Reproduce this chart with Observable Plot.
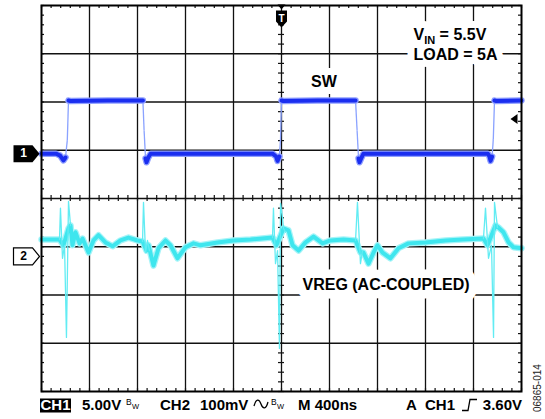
<!DOCTYPE html>
<html><head><meta charset="utf-8">
<script src="https://cdn.jsdelivr.net/npm/d3@7"></script>
<script src="https://cdn.jsdelivr.net/npm/@observablehq/plot@0.6"></script>
<style>
html,body{margin:0;padding:0;background:#fff;}
#wrap{position:relative;width:545px;height:419px;overflow:hidden;font-family:"Liberation Sans",Arial,sans-serif;}
#chart svg{display:block;}
#caption{display:block;}
#side{position:absolute;left:0;top:0;pointer-events:none;}
</style>
</head><body>
<div id="wrap"><div id="chart"></div>
<svg id="caption" width="545" height="24" font-family="Liberation Sans, Arial, sans-serif">
  <rect x="40" y="3.5" width="31" height="14" fill="#000"></rect>
  <text x="55.5" y="15" text-anchor="middle" fill="#fff" font-weight="bold" font-size="15">CH1</text>
  <text x="82" y="15" font-weight="bold" font-size="15">5.00V</text>
  <text x="126" y="10" font-size="8.5">B</text><text x="132" y="14" font-size="7.5">W</text>
  <text x="160" y="15" font-weight="bold" font-size="15">CH2</text>
  <text x="200" y="15" font-weight="bold" font-size="15">100mV</text>
  <path d="M254,11 C256,3.5 259,3.5 261,9 C263,14.5 266,14.5 268,7" fill="none" stroke="#000" stroke-width="1.3"></path>
  <text x="271" y="10" font-size="8.5">B</text><text x="277" y="14" font-size="7.5">W</text>
  <text x="298" y="15" font-weight="bold" font-size="15">M 400ns</text>
  <text x="406" y="15" font-weight="bold" font-size="15">A</text>
  <text x="425" y="15" font-weight="bold" font-size="15">CH1</text>
  <path d="M462,15.5 L468,15.5 L470,4.5 L477,4.5" fill="none" stroke="#000" stroke-width="1.3"></path>
  <text x="522" y="15" text-anchor="end" font-weight="bold" font-size="15">3.60V</text>
</svg>
<svg id="side" width="545" height="419" font-family="Liberation Sans, Arial, sans-serif">
  <text transform="translate(541,412) rotate(-90)" font-size="10" fill="#222">06865-014</text>
</svg>
</div>
<script>
// ---------- data ----------
// CH1: SW node (volts) vs time (ns, trigger at 0)
const swTime = [-2000, -1880, -1845, -1817, -1800, -1785, -1775, -1760, -1450, -1155, -1145, -1133, -1125, -1110, -1090, -700, -75, -45, -33, -18, -8, 0, 15, 300, 617, 630, 642, 650, 667, 683, 1100, 1720, 1733, 1742, 1755, 1765, 1775, 1790, 2000];
const swVolt = [0, 0, -0.2, -0.7, -0.4, 1.4, 5.5, 5.45, 5.5, 5.5, 2.4, -0.5, -0.9, -0.4, 0, 0, 0, -0.3, -0.75, -0.3, 1.5, 5.5, 5.45, 5.5, 5.5, 2.4, -0.5, -0.9, -0.4, 0, 0, 0, -0.3, -0.75, -0.3, 1.5, 5.5, 5.45, 5.5];
// CH2: VREG ripple (mV, AC-coupled) – main trace
const vregTime = [-2000, -1850, -1817, -1775, -1758, -1742, -1717, -1683, -1658, -1608, -1567, -1525, -1467, -1408, -1342, -1275, -1200, -1158, -1125, -1108, -1067, -1025, -967, -925, -867, -800, -733, -675, -533, -400, -258, -75, -42, 17, 58, 92, 142, 200, 267, 342, 408, 517, 617, 658, 683, 725, 767, 800, 842, 908, 975, 1058, 1200, 1367, 1508, 1683, 1717, 1783, 1808, 1850, 1892, 1933, 2000];
const vregMv = [35, 35, 23, 58, 64, 23, 50, 27, 37, 8, 33, 44, 29, 21, 33, 39, 33, 31, 12, 23, -19, 17, 33, 23, -4, 19, 27, 23, 29, 33, 35, 39, 23, 58, 54, 23, 12, 29, 41, 27, 33, 35, 33, 8, 8, -15, 8, 23, 8, -4, 17, 27, 29, 33, 35, 37, 23, 64, 60, 50, 29, 19, 17];
// CH2: switching spikes (one group per switching edge)
const spikeEdge = [1,1,1,1,1,1,1, 2,2,2,2,2, 3,3,3,3,3,3,3,3,3, 4,4,4,4, 5,5,5,5,5,5,5];
const spikeTime = [-1850, -1842, -1825, -1808, -1792, -1775, -1758, -1158, -1150, -1133, -1117, -1100, -75, -67, -50, -33, -17, -8, 8, 17, 33, 617, 633, 658, 675, 1683, 1700, 1725, 1750, 1767, 1775, 1800];
const spikeMv = [35, 100, -4, 23, -168, 114, 64, 31, 112, 8, 33, 12, 39, 100, -15, 12, -191, 110, 81, 58, 50, 33, 112, -15, 12, 37, 100, -4, 23, -168, 112, 60];
// scope settings
const ch1VoltsPerDiv = 5, ch2MvPerDiv = 100, nsPerDiv = 400;
const ch1Ground = 0.93, ch2Ground = -1.2;   // marker positions (divisions)
const trigLevel = 3.6;                      // volts on CH1
// annotations
const labelText = ["SW", "VIN = 5.5V", "LOAD = 5A", "VREG (AC-COUPLED)"];
const labelT = [354, 1100, 1100, 175];
const labelDiv = [2.42, 3.4, 2.98, -1.78];
const labelAnchor = ["middle", "start", "start", "start"];
const labelPad = [14, 14, 14, 17];

// ---------- derived ----------
const majorX = d3.range(-5, 5.001, 1).map(d => d * nsPerDiv);
const majorY = d3.range(-4, 4.001, 1);
const minorX = d3.range(-25, 25.001, 1).map(d => d * nsPerDiv / 5);
const minorY = d3.range(-20, 20.001, 1).map(d => d / 5);
const xLo = -5 * nsPerDiv, xHi = 5 * nsPerDiv;
const tX = 3 * (10 * nsPerDiv) / 480, tY = 3 * 8 / 386;  // 3px tick length in data units

const sw = swTime.map((t, i) => ({t, y: ch1Ground + swVolt[i] / ch1VoltsPerDiv}));
let seg = 0;
sw.forEach((d, i) => { if (i > 0 && Math.abs(swVolt[i] - swVolt[i - 1]) > 1.5) seg++; d.seg = seg; });
const segCount = d3.rollup(sw, v => v.length, d => d.seg);
const swFlat = sw.filter(d => segCount.get(d.seg) > 1);
const swEdges = d3.pairs(sw).filter(([a, b], i) => Math.abs(swVolt[i + 1] - swVolt[i]) > 1.5)
  .map(([a, b]) => ({x1: a.t, y1: a.y, x2: b.t, y2: b.y}));
const vreg = vregTime.map((t, i) => ({t, y: ch2Ground + vregMv[i] / ch2MvPerDiv}));
const spikes = spikeTime.map((t, i) => ({t, y: ch2Ground + spikeMv[i] / ch2MvPerDiv, g: spikeEdge[i]}));
const labels = labelText.map((text, i) => ({text, t: labelT[i], y: labelDiv[i], anchor: labelAnchor[i], pad: labelPad[i]}));

const markerShape = {draw(c) { c.moveTo(-28, -8.5); c.lineTo(-9, -8.5); c.lineTo(-2, 0); c.lineTo(-9, 8.5); c.lineTo(-28, 8.5); c.closePath(); }};
const trigShape = {draw(c) {
  c.moveTo(-4, -1); c.lineTo(4, -1); c.lineTo(0, 4); c.closePath();
  c.moveTo(-5.5, 5); c.lineTo(5.5, 5); c.lineTo(5.5, 16); c.lineTo(0, 22); c.lineTo(-5.5, 16); c.closePath();
}};
const levelShape = {draw(c) { c.moveTo(-11, 0); c.lineTo(-4, -5); c.lineTo(-4, 5); c.closePath(); }};

const gridStroke = "#111";
const labelMarks = ["start", "middle"].flatMap(anchor => {
  const data = labels.filter(d => d.anchor === anchor);
  return [
    Plot.text(data, {x: "t", y: "y", text: "text", textAnchor: anchor, fontWeight: "bold", fontSize: 16, fill: "#fff", stroke: "#fff", strokeWidth: d => d.pad, strokeLinejoin: "round"}),
    Plot.text(data, {x: "t", y: "y", text: "text", textAnchor: anchor, fontWeight: "bold", fontSize: 16, fill: "#000"})
  ];
});

const plot = Plot.plot({
  width: 545, height: 395,
  marginLeft: 41, marginRight: 24, marginTop: 5, marginBottom: 4,
  x: {domain: [xLo, xHi], axis: null},
  y: {domain: [-4, 4], axis: null},
  style: {fontFamily: "Liberation Sans, Arial, sans-serif", background: "white", overflow: "visible"},
  marks: [
    Plot.ruleX(majorX.slice(1, -1), {stroke: gridStroke, strokeWidth: 1.3}),
    Plot.ruleY(majorY.slice(1, -1), {stroke: gridStroke, strokeWidth: 1.3}),
    Plot.ruleX(minorX, {x: d => d, y1: 4, y2: 4 - tY, stroke: gridStroke, strokeWidth: 1.2}),
    Plot.ruleX(minorX, {x: d => d, y1: -4, y2: -4 + tY, stroke: gridStroke, strokeWidth: 1.2}),
    Plot.ruleX(minorX, {x: d => d, y1: -tY, y2: tY, stroke: gridStroke, strokeWidth: 1.2}),
    Plot.ruleY(minorY, {y: d => d, x1: xLo, x2: xLo + tX, stroke: gridStroke, strokeWidth: 1.2}),
    Plot.ruleY(minorY, {y: d => d, x1: xHi, x2: xHi - tX, stroke: gridStroke, strokeWidth: 1.2}),
    Plot.ruleY(minorY, {y: d => d, x1: -tX, x2: tX, stroke: gridStroke, strokeWidth: 1.2}),
    // CH2 VREG
    Plot.line(vreg, {x: "t", y: "y", stroke: "#a6f4f8", strokeWidth: 6.5, strokeLinejoin: "round"}),
    Plot.line(vreg, {x: "t", y: "y", stroke: "#3fe6ee", strokeWidth: 4, strokeLinejoin: "round"}),
    Plot.line(spikes, {x: "t", y: "y", z: "g", stroke: "#62ecf3", strokeWidth: 1.3}),
    // CH1 SW
    Plot.link(swEdges, {x1: "x1", y1: "y1", x2: "x2", y2: "y2", stroke: "#8aa2ff", strokeWidth: 1.3}),
    Plot.line(swFlat, {x: "t", y: "y", z: "seg", stroke: "#8f9fff", strokeWidth: 6.5, strokeLinejoin: "round"}),
    Plot.line(swFlat, {x: "t", y: "y", z: "seg", stroke: "#1a2ef0", strokeWidth: 4, strokeLinejoin: "round"}),
    Plot.frame({stroke: "#000", strokeWidth: 2}),
    // channel markers
    Plot.dot([ch1Ground], {x: () => xLo, y: d => d, symbol: markerShape, fill: "#000", stroke: null}),
    Plot.text([ch1Ground], {x: () => xLo, y: d => d, text: () => "1", dx: -18, fill: "#fff", fontWeight: "bold", fontSize: 12}),
    Plot.dot([ch2Ground], {x: () => xLo, y: d => d, symbol: markerShape, fill: "#fff", stroke: "#000", strokeWidth: 1.2}),
    Plot.text([ch2Ground], {x: () => xLo, y: d => d, text: () => "2", dx: -18, fill: "#000", fontWeight: "bold", fontSize: 12}),
    Plot.dot([0], {x: d => d, y: () => 4, symbol: trigShape, fill: "#000", stroke: null}),
    Plot.text([0], {x: d => d, y: () => 4, text: () => "T", dy: 13, fill: "#fff", fontWeight: "bold", fontSize: 10}),
    Plot.dot([trigLevel], {x: () => xHi, y: d => ch1Ground + d / ch1VoltsPerDiv, symbol: levelShape, fill: "#000", stroke: null}),
    ...labelMarks
  ]
});
d3.select(plot).selectAll("text").each(function() {
  if (this.textContent === "VIN = 5.5V") {
    const t = d3.select(this);
    t.text(null);
    t.append("tspan").text("V");
    t.append("tspan").attr("font-size", 11).attr("dy", 4).text("IN");
    t.append("tspan").attr("dy", -4).text(" = 5.5V");
  }
});
document.getElementById("chart").appendChild(plot);
</script>
</body></html>
